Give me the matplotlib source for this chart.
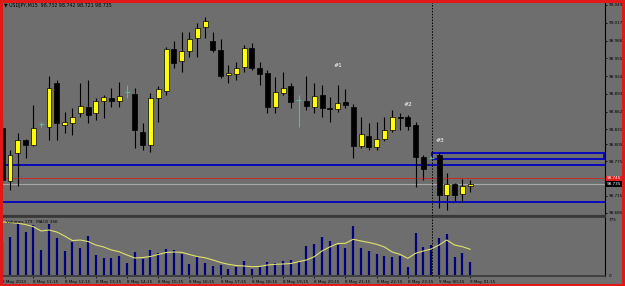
import matplotlib
matplotlib.use('Agg')
import matplotlib.pyplot as plt
from matplotlib.patches import Rectangle
from matplotlib.transforms import blended_transform_factory

# ---------------- data ----------------
bars = list(range(-1, 60))
opens = [98.833, 98.741, 98.789, 98.812, 98.803, 98.840, 98.835, 98.912, 98.839, 98.842,
         98.859, 98.870, 98.859, 98.881, 98.886, 98.881, 98.896, 98.893, 98.826, 98.803,
         98.886, 98.898, 98.971, 98.950, 98.968, 98.991, 99.010, 98.986, 98.970, 98.926,
         98.928, 98.940, 98.973, 98.938, 98.930, 98.870, 98.894, 98.907, 98.882, 98.881,
         98.870, 98.891, 98.868, 98.866, 98.879, 98.870, 98.802, 98.819, 98.800, 98.814,
         98.830, 98.852, 98.852, 98.838, 98.782, 98.781, 98.786, 98.716, 98.735, 98.718,
         98.732]
highs = [98.851, 98.795, 98.824, 98.814, 98.873, 98.844, 98.924, 98.917, 98.861, 98.868,
         98.912, 98.917, 98.886, 98.891, 98.903, 98.914, 98.908, 98.903, 98.842, 98.895,
         98.907, 98.975, 98.986, 99.001, 99.001, 99.017, 99.027, 99.001, 98.989, 98.944,
         98.949, 98.978, 98.982, 98.949, 98.935, 98.922, 98.931, 98.912, 98.891, 98.924,
         98.912, 98.908, 98.887, 98.908, 98.901, 98.875, 98.852, 98.842, 98.844, 98.852,
         98.865, 98.860, 98.856, 98.844, 98.786, 98.784, 98.790, 98.754, 98.737, 98.744,
         98.742]
lows = [98.728, 98.725, 98.731, 98.781, 98.802, 98.835, 98.812, 98.812, 98.824, 98.821,
        98.852, 98.842, 98.847, 98.851, 98.870, 98.870, 98.886, 98.798, 98.795, 98.791,
        98.844, 98.891, 98.938, 98.931, 98.957, 98.957, 98.991, 98.966, 98.921, 98.912,
        98.917, 98.931, 98.935, 98.908, 98.860, 98.860, 98.891, 98.868, 98.835, 98.865,
        98.860, 98.853, 98.844, 98.861, 98.868, 98.781, 98.798, 98.795, 98.795, 98.810,
        98.826, 98.830, 98.830, 98.730, 98.742, 98.779, 98.693, 98.690, 98.704, 98.704,
        98.721]
closes = [98.742, 98.786, 98.813, 98.803, 98.833, 98.840, 98.903, 98.842, 98.844, 98.852,
          98.872, 98.856, 98.881, 98.888, 98.881, 98.889, 98.896, 98.830, 98.803, 98.886,
          98.901, 98.971, 98.947, 98.968, 98.989, 99.008, 99.020, 98.970, 98.924, 98.930,
          98.938, 98.973, 98.938, 98.928, 98.870, 98.896, 98.903, 98.879, 98.882, 98.872,
          98.889, 98.868, 98.866, 98.877, 98.874, 98.802, 98.823, 98.800, 98.814, 98.830,
          98.852, 98.850, 98.837, 98.782, 98.761, 98.781, 98.716, 98.735, 98.716, 98.732,
          98.735]

volumes = [450, 522, 715, 599, 692, 346, 706, 508, 336, 452, 378, 544, 277, 239, 231, 267,
           170, 322, 221, 346, 300, 360, 346, 286, 152, 253, 162, 129, 138, 83, 115, 194,
           83, 115, 176, 162, 194, 208, 184, 406, 433, 522, 471, 415, 378, 682, 370, 336,
           286, 263, 245, 263, 107, 585, 392, 415, 508, 563, 253, 300, 179]
vol_ma = [735, 727, 716, 699, 668, 609, 623, 595, 540, 477, 484, 464, 415, 388, 346, 322,
          277, 235, 242, 256, 284, 311, 318, 314, 284, 256, 239, 208, 173, 148, 131, 125,
          115, 118, 138, 148, 152, 159, 184, 208, 253, 332, 388, 436, 439, 494, 471, 450,
          425, 388, 318, 286, 231, 300, 332, 360, 415, 484, 415, 392, 356]

price_ticks = [99.049, 99.017, 98.986, 98.955, 98.924, 98.893, 98.862, 98.831, 98.805,
               98.775, 98.715, 98.685]
support_levels = [98.768, 98.703]
red_level = 98.745
bid_level = 98.735
box_low, box_high = 98.779, 98.790
marker_names = ['#1', '#2', '#3']
marker_bars = [42.0, 51.0, 55.1]
marker_prices = [98.942, 98.874, 98.811]
date_bars = [-1, 3, 7, 11, 15, 19, 23, 27, 31, 35, 39, 43, 47, 51, 55, 59]
date_labels = ['8 May 2013', '8 May 11:15', '8 May 12:15', '8 May 13:15', '8 May 14:15',
               '8 May 15:15', '8 May 16:15', '8 May 17:15', '8 May 18:15', '8 May 19:15',
               '8 May 20:15', '8 May 21:15', '8 May 22:15', '8 May 23:15', '9 May 00:15',
               '9 May 01:15']
separator_bar = 54.1

# ---------------- figure ----------------
W, H = 625, 286
fig = plt.figure(figsize=(W / 100, H / 100), dpi=100)
BG = '#6e6e6e'
fig.patch.set_facecolor(BG)


def ax_px(x0, y0, x1, y1):
    return fig.add_axes([x0 / W, 1 - y1 / H, (x1 - x0) / W, (y1 - y0) / H])


ax = ax_px(2, 2, 605, 216)
axv = ax_px(2, 217, 605, 276)
for a in (ax, axv):
    a.set_facecolor(BG)
    a.set_xlim(-1.026, 76.28)
    for s in ('left', 'top'):
        a.spines[s].set_visible(False)
    a.spines['right'].set_color('black')
    a.spines['right'].set_linewidth(0.8)
ax.spines['bottom'].set_color('#383838')
ax.spines['bottom'].set_linewidth(1.6)
axv.spines['bottom'].set_color('#383838')
axv.spines['bottom'].set_linewidth(1.2)
axv.spines['top'].set_visible(True)
axv.spines['top'].set_color('#383838')
axv.spines['top'].set_linewidth(0.6)

ax.set_ylim(98.6792, 99.0537)

FS = 3.0
# candles
bw = 0.64
doji_c = '#58b8a8'
for b, o, h, l, c in zip(bars, opens, highs, lows, closes):
    if abs(o - c) < 1e-9:
        ax.vlines(b, l, h, color=doji_c, lw=0.8, zorder=3)
        ax.hlines(o, b - bw / 2, b + bw / 2, color=doji_c, lw=0.8, zorder=3)
        continue
    ax.vlines(b, l, h, color='black', lw=0.8, zorder=3)
    bull = c > o
    ax.add_patch(Rectangle((b - bw / 2, min(o, c)), bw, abs(c - o),
                           facecolor='#ffff00' if bull else 'black',
                           edgecolor='black', lw=0.5, zorder=4))

# horizontal lines
for lv in support_levels:
    ax.axhline(lv, color='#0000c0', lw=1.3, zorder=2)
ax.axhline(red_level, color='#c03030', lw=0.8, zorder=2)
ax.axhline(bid_level, color='#a8a8a8', lw=0.8, zorder=2)
ax.add_patch(Rectangle((separator_bar, box_low), 76.15 - separator_bar, box_high - box_low,
                       fill=False, edgecolor='#0000c0', lw=1.3, zorder=2))
for a in (ax, axv):
    a.axvline(separator_bar, color='black', lw=0.7, ls=(0, (1.5, 1.5)), zorder=5)

for n, xb, yp in zip(marker_names, marker_bars, marker_prices):
    ax.text(xb, yp, n, color='white', fontsize=4.3, ha='center', va='center', zorder=6)

# right price axis
ax.yaxis.tick_right()
ax.set_yticks(price_ticks)
ax.set_yticklabels([f'{t:.3f}' for t in price_ticks])
ax.tick_params(axis='y', labelsize=FS, colors='black', length=1.5, width=0.6, pad=1.2)
ax.set_xticks([])

# value tags on axis
trans = blended_transform_factory(ax.transAxes, ax.transData)
ax.text(1.003, red_level, f'{red_level:.3f}', transform=trans, fontsize=FS, color='white',
        va='center', ha='left',
        bbox=dict(boxstyle='square,pad=0.2', fc='#e02020', ec='none'), zorder=7, clip_on=False)
ax.text(1.003, bid_level, f'{bid_level:.3f}', transform=trans, fontsize=FS, color='white',
        va='center', ha='left',
        bbox=dict(boxstyle='square,pad=0.2', fc='black', ec='none'), zorder=7, clip_on=False)

# title
fig.text(4 / W, 1 - 6 / H, '\u25BC USDJPY,M15  98.732 98.742 98.721 98.735', fontsize=3.4,
         color='black', va='center', ha='left')

# volumes
axv.vlines(bars, 0, volumes, color='#000080', lw=1.6, zorder=3)
axv.plot(bars, vol_ma, color='#e0e070', lw=0.8, zorder=4)
axv.set_ylim(-13.8, 802.7)
axv.yaxis.tick_right()
axv.set_yticks([775, 0])
axv.set_yticklabels(['775', '0'])
axv.tick_params(axis='y', labelsize=FS, colors='black', length=0, pad=3)
axv.text(0.006, 0.95, 'Volumes 179   MA(3) 356', transform=axv.transAxes, fontsize=FS,
         color='black', va='top', ha='left', zorder=6)

axv.set_xticks(date_bars)
axv.set_xticklabels(date_labels, ha='left')
axv.tick_params(axis='x', labelsize=FS, colors='black', length=1.5, width=0.5, pad=1.5,
                direction='out')

# red frame
fig.add_artist(Rectangle((0.0015, 0.003), 0.995, 0.994, transform=fig.transFigure,
                         fill=False, edgecolor='#e01818', lw=2.2))

fig.savefig('out.png', dpi=100, facecolor=BG)
